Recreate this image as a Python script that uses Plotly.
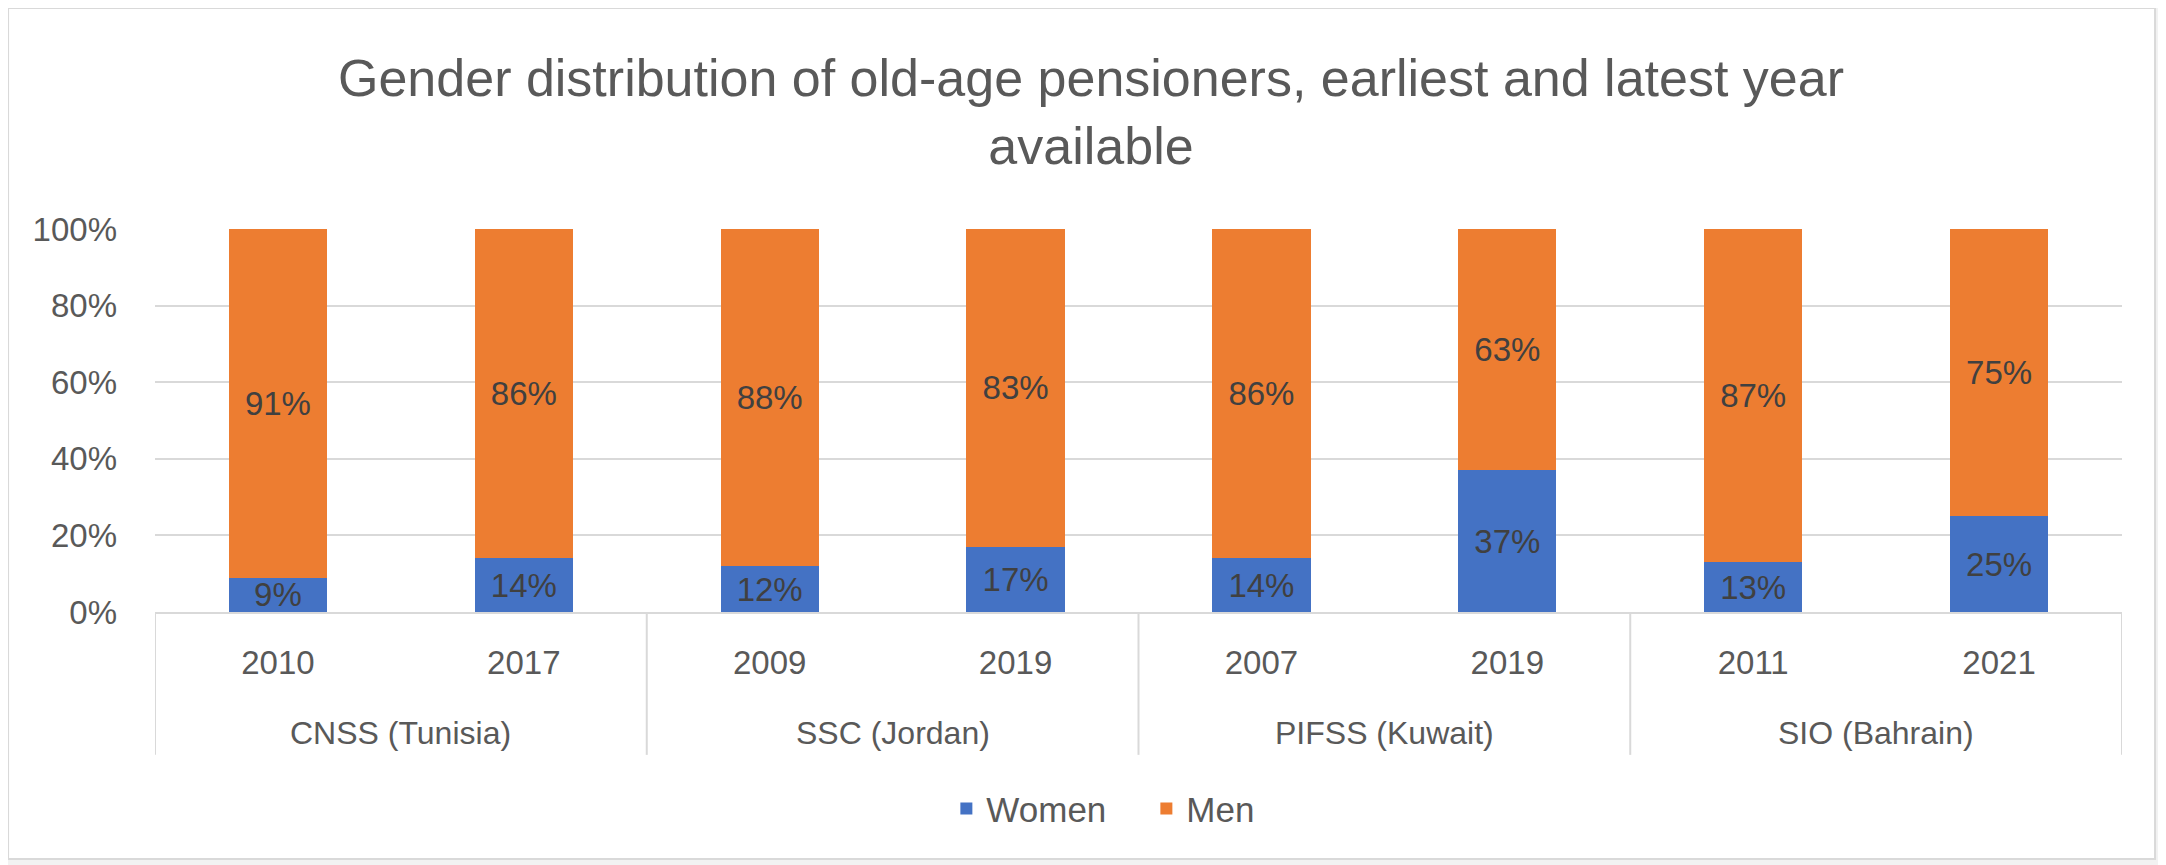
import plotly.graph_objects as go

# dados do grafico
fundos = ["CNSS (Tunisia)", "CNSS (Tunisia)", "SSC (Jordan)", "SSC (Jordan)",
          "PIFSS (Kuwait)", "PIFSS (Kuwait)", "SIO (Bahrain)", "SIO (Bahrain)"]
anos = ["2010", "2017", "2009", "2019", "2007", "2019", "2011", "2021"]
mulheres = [9, 14, 12, 17, 14, 37, 13, 25]
homens = [91, 86, 88, 83, 86, 63, 87, 75]

azul = "#4472C4"
laranja = "#ED7D31"
cinza_texto = "#595959"
cinza_linha = "#D9D9D9"
fonte = "Liberation Sans, Arial, sans-serif"

posicoes = list(range(len(anos)))

fig = go.Figure()

fig.add_trace(go.Bar(
    x=posicoes, y=mulheres, name="Women",
    marker_color=azul, marker_line_width=0,
    text=[f"{v}%" for v in mulheres], textposition="inside",
    insidetextanchor="middle", constraintext="none",
    textfont=dict(size=33, color="#404040", family=fonte),
))
fig.add_trace(go.Bar(
    x=posicoes, y=homens, name="Men",
    marker_color=laranja, marker_line_width=0,
    text=[f"{v}%" for v in homens], textposition="inside",
    insidetextanchor="middle", constraintext="none",
    textfont=dict(size=33, color="#404040", family=fonte),
))

# nomes dos fundos embaixo dos anos + linhas separando os grupos
grupos = []
for f in fundos:
    if f not in grupos:
        grupos.append(f)
limites = [-0.5]
for g in grupos:
    idx = [i for i, f in enumerate(fundos) if f == g]
    fig.add_annotation(x=sum(idx) / len(idx), y=-0.316, xref="x", yref="paper",
                       text=g, showarrow=False, yanchor="middle",
                       font=dict(size=32, color=cinza_texto, family=fonte))
    limites.append(max(idx) + 0.5)
for lim in limites:
    fig.add_shape(type="line", xref="x", yref="paper", x0=lim, x1=lim, y0=0, y1=-0.373,
                  line=dict(color=cinza_linha, width=2))

# moldura do grafico (fundo branco com borda cinza)
fig.add_shape(type="rect", xref="paper", yref="paper",
              x0=-0.0747, x1=1.0168, y0=-0.645, y1=1.577,
              fillcolor="white", line=dict(color=cinza_linha, width=2),
              layer="below")

fig.update_layout(
    width=2166, height=865,
    barmode="stack", bargap=0.6,
    paper_bgcolor="#F2F2F2", plot_bgcolor="rgba(0,0,0,0)",
    margin=dict(l=147, r=52, t=221, b=261),
    font=dict(family=fonte, color=cinza_texto, size=33),
    title=dict(
        text="Gender distribution of old-age pensioners, earliest and latest year<br>available",
        x=0.5, xanchor="center", y=0.8977, yanchor="middle",
        font=dict(size=52, color=cinza_texto, family=fonte),
    ),
    legend=dict(orientation="h", x=0.504, xanchor="center", y=-0.514, yanchor="middle",
                font=dict(size=35, color=cinza_texto), traceorder="normal",
                entrywidth=155, bgcolor="rgba(0,0,0,0)"),
    showlegend=True,
)

fig.update_yaxes(range=[0, 100], dtick=20, ticksuffix="%", showgrid=True,
                 gridcolor=cinza_linha, gridwidth=2, zeroline=False,
                 tickfont=dict(size=33, color=cinza_texto), ticks="",
                 ticklabelstandoff=37, automargin=False)
fig.update_xaxes(range=[-0.5, len(anos) - 0.5], tickvals=posicoes, ticktext=anos,
                 showline=True, linecolor=cinza_linha, linewidth=2, showgrid=False,
                 zeroline=False, ticks="", ticklabelstandoff=20, automargin=False,
                 tickfont=dict(size=33, color=cinza_texto))

fig.write_html("out.html")
